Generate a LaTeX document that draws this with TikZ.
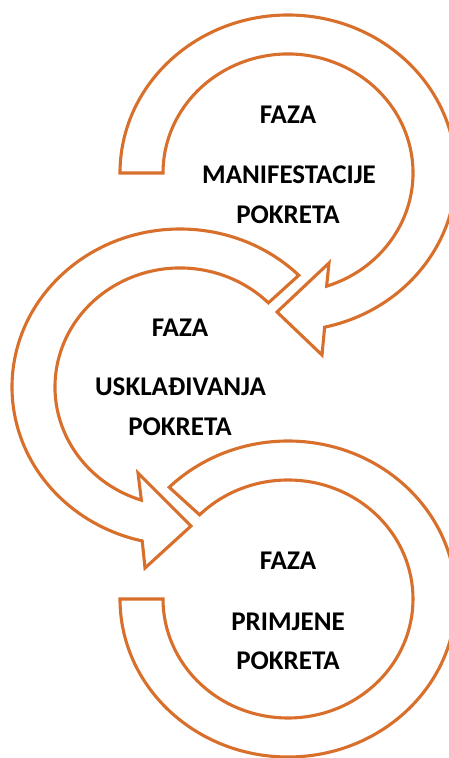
\documentclass[tikz,border=0pt]{standalone}
\usepackage{fontspec}
\setmainfont{Carlito}
\usetikzlibrary{calc}
\definecolor{arroworange}{RGB}{216,112,44}
\begin{document}
\begin{tikzpicture}[x=1pt,y=1pt,
  band/.style={draw=arroworange, line width=3.1pt, fill=white, line join=miter},
  lbl/.style={font=\bfseries\fontsize{27}{32}\selectfont, anchor=base, inner sep=0pt}]
\clip (0,0) rectangle (449,758);
\coordinate (c1) at (288,585);
\coordinate (c2) at (180,371);
\coordinate (c3) at (288,159);
% arrow 3 (no head)
\draw[band] ($(c3)+(180:168pt and 158pt)$)
  arc[start angle=180, end angle=495, x radius=168pt, y radius=158pt]
  -- ($(c3)+(135:125pt and 119pt)$)
  arc[start angle=495, end angle=180, x radius=125pt, y radius=119pt] -- cycle;
% arrow 2
\draw[band] ($(c2)+(45:168pt and 158pt)$)
  arc[start angle=45, end angle=257, x radius=168pt, y radius=158pt]
  -- (145,190) -- (191,232) -- (138,285)
  -- ($(c2)+(252:125pt and 119pt)$)
  arc[start angle=252, end angle=45, x radius=125pt, y radius=119pt] -- cycle;
% arrow 1
\draw[band] ($(c1)+(180:168pt and 158pt)$)
  arc[start angle=180, end angle=-77.4, x radius=168pt, y radius=158pt]
  -- (322,403) -- (277,446) -- (329,495)
  -- ($(c1)+(-72:125pt and 119pt)$)
  arc[start angle=-72, end angle=180, x radius=125pt, y radius=119pt] -- cycle;
% labels
\node[lbl] (t1a) at (288,634) {FAZA};
\node[lbl] (t1b) at (289,574) {MANIFESTACIJE};
\node[lbl] (t1c) at (288,534) {POKRETA};
\node[lbl] (t2a) at (180,421) {FAZA};
\node[lbl] (t2b) at (180.5,362) {USKLAĐIVANJA};
\node[lbl] (t2c) at (180,322) {POKRETA};
\node[lbl] (t3a) at (288,188) {FAZA};
\node[lbl] (t3b) at (288,127) {PRIMJENE};
\node[lbl] (t3c) at (288,88) {POKRETA};
\end{tikzpicture}
\end{document}
